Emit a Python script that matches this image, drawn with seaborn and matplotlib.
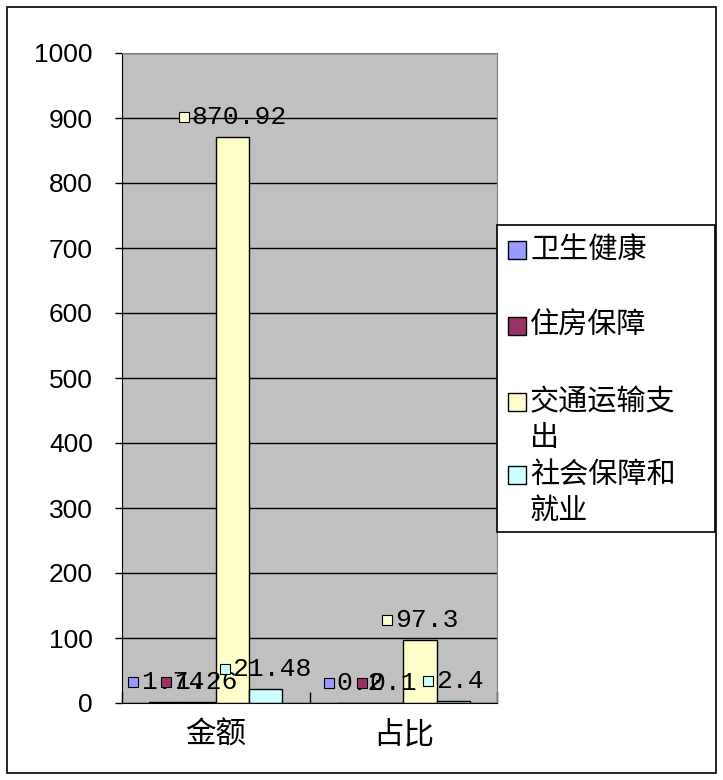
import matplotlib
matplotlib.use("Agg")
import matplotlib.pyplot as plt
import matplotlib.patches as mpatches
from matplotlib.transforms import offset_copy
import pandas as pd
import seaborn as sns

# values
categories = ["金额", "占比"]
series_names = ["卫生健康", "住房保障", "交通运输支出", "社会保障和就业"]
health = [1.74, 0.2]
housing = [1.26, 0.1]
transport = [870.92, 97.3]
social = [21.48, 2.4]
legend_lines = [["卫生健康"], ["住房保障"], ["交通运输支", "出"], ["社会保障和", "就业"]]
colors = ["#9999FF", "#993366", "#FFFFCC", "#CCFFFF"]
y_ticks = list(range(0, 1001, 100))

values = [health, housing, transport, social]
df = pd.DataFrame({
    "类别": categories * len(series_names),
    "系列": [s for s in series_names for _ in categories],
    "值": health + housing + transport + social,
})

W, H = 723, 780
fig = plt.figure(figsize=(W / 100, H / 100), dpi=100)


def fx(x):
    return x / W


def fy(y):
    return 1 - y / H


# outer frame
fig.add_artist(mpatches.Rectangle((fx(7), fy(773)), fx(716) - fx(7), fy(7) - fy(773),
                                  transform=fig.transFigure, fill=False, ec="black", lw=1.2))

ax = fig.add_axes([fx(122), fy(703), (497 - 122) / W, (703 - 53) / H])
ax.set_facecolor("#C0C0C0")

sns.barplot(data=df, x="类别", y="值", hue="系列", order=categories, hue_order=series_names,
            palette=colors, width=0.71, saturation=1, edgecolor="black", linewidth=1,
            errorbar=None, legend=False, ax=ax)

ax.set_ylim(0, 1000)
ax.set_xlim(-0.5, 1.5)
ax.set_yticks(y_ticks)
ax.yaxis.grid(True, color="black", linewidth=1)
ax.set_axisbelow(True)
ax.set_xlabel("")
ax.set_ylabel("")

ax.tick_params(axis="y", direction="out", length=5, width=1, pad=16, labelsize=19)
for lbl in ax.get_yticklabels():
    lbl.set_fontfamily("Liberation Sans")
ax.set_xticks([0, 1])
ax.set_xticklabels(categories, fontsize=22, family="Noto Sans CJK SC")
ax.set_xticks([-0.5, 0.5, 1.5], minor=True)
ax.tick_params(axis="x", which="major", length=0, pad=12)
ax.tick_params(axis="x", which="minor", direction="in", length=8, width=1)

for side in ["left", "bottom"]:
    ax.spines[side].set_color("black")
for side in ["top", "right"]:
    ax.spines[side].set_color("#808080")

# data labels with the legend key in front, as excel draws them
fs = 19
pitch = fs * 0.6 * 100 / 72
for i, cont in enumerate(ax.containers):
    for j, bar in enumerate(cont):
        x = bar.get_x() + bar.get_width() / 2
        h = bar.get_height()
        s = f"{values[i][j]:g}"
        total = 13 + len(s) * pitch
        left = -total / 2
        tr = offset_copy(ax.transData, fig=fig, x=left + 5.5, y=20, units="dots")
        ax.plot([x], [h], marker="s", ms=7.5, mfc=colors[i], mec="black", mew=0.8,
                transform=tr, clip_on=False, zorder=5)
        ax.annotate(s, (x, h), xytext=(left + 13, 20), textcoords="offset pixels",
                    ha="left", va="center", fontsize=fs, family="Liberation Mono",
                    annotation_clip=False, zorder=5)

# legend box
fig.add_artist(mpatches.Rectangle((fx(497), fy(532)), fx(715) - fx(497), fy(225) - fy(532),
                                  transform=fig.transFigure, fc="white", ec="black", lw=1.2))
entry_y = [250, 326, 402, 475]
for i, lines in enumerate(legend_lines):
    y0 = entry_y[i]
    fig.add_artist(mpatches.Rectangle((fx(508), fy(y0 + 9)), 18 / W, 18 / H,
                                      transform=fig.transFigure, fc=colors[i], ec="black", lw=1))
    for k, line in enumerate(lines):
        fig.text(fx(530), fy(y0 + k * 36), line, ha="left", va="center",
                 fontsize=21, family="Noto Sans CJK SC")

fig.savefig("out.png", dpi=100)
